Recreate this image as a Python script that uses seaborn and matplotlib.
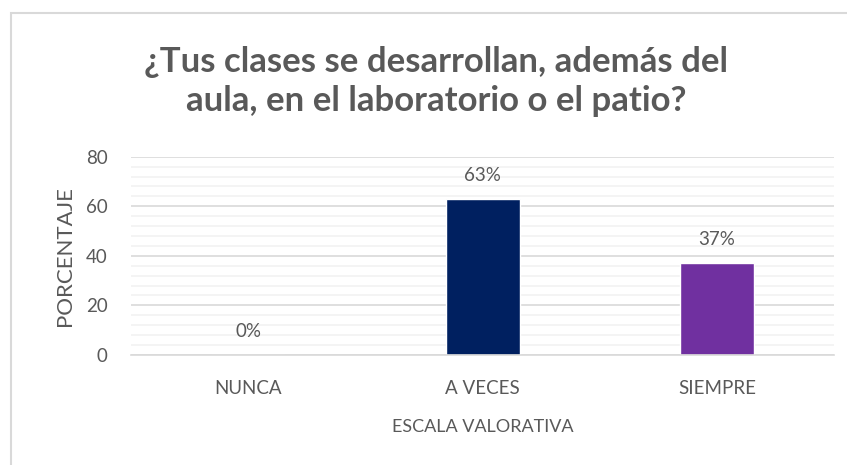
import pandas as pd
import matplotlib.pyplot as plt
import seaborn as sns
from matplotlib.patches import Rectangle
from matplotlib.ticker import MultipleLocator

# data
categorias = ["NUNCA", "A VECES", "SIEMPRE"]
porcentajes = [0, 63, 37]
etiquetas = ["0%", "63%", "37%"]
colores = ["#4472C4", "#002060", "#7030A0"]

titulo = "¿Tus clases se desarrollan, además del\naula, en el laboratorio o el patio?"

gris = "#595959"

sns.set_theme(style="white")
plt.rcParams["font.family"] = ["Lato", "DejaVu Sans"]

df = pd.DataFrame({"escala": categorias, "porcentaje": porcentajes})

fig = plt.figure(figsize=(8.47, 4.65), dpi=100)
ax = fig.add_axes([0.1547, 0.2366, 0.8300, 0.4264])

sns.barplot(data=df, x="escala", y="porcentaje", hue="escala",
            palette=colores, width=0.316, legend=False, ax=ax,
            saturation=1)

ax.set_ylim(0, 80)
ax.yaxis.set_major_locator(MultipleLocator(20))
ax.yaxis.set_minor_locator(MultipleLocator(4))
ax.grid(which="major", axis="y", color="#d9d9d9", linewidth=1.2)
ax.grid(which="minor", axis="y", color="#f2f2f2", linewidth=1.2)
ax.set_axisbelow(True)
for s in ["top", "right", "left"]:
    ax.spines[s].set_visible(False)
ax.spines["bottom"].set_color("#d9d9d9")
ax.spines["bottom"].set_linewidth(1.2)

ax.tick_params(axis="both", which="both", length=0, labelsize=13.5, colors=gris)
ax.tick_params(axis="y", pad=17)
ax.tick_params(axis="x", pad=18)

for i, (v, t) in enumerate(zip(porcentajes, etiquetas)):
    ax.annotate(t, (i, v), xytext=(0, 11), textcoords="offset points",
                ha="center", va="bottom", fontsize=13.5, color=gris)

ax.set_xlabel("ESCALA VALORATIVA", fontsize=13, color=gris, labelpad=16)
ax.set_ylabel("PORCENTAJE", fontsize=16, color=gris, labelpad=8)

fig.text(0.515, 0.825, titulo, ha="center", va="center", fontsize=25,
         fontweight="bold", color=gris, linespacing=1.25)

# light border of the chart area
fig.patches.append(Rectangle((11 / 847, -0.1), 1.2, 1.1 - 13 / 465,
                             transform=fig.transFigure, fill=False,
                             edgecolor="#d9d9d9", linewidth=1.5))

plt.savefig("out.png", dpi=100)
plt.close()
